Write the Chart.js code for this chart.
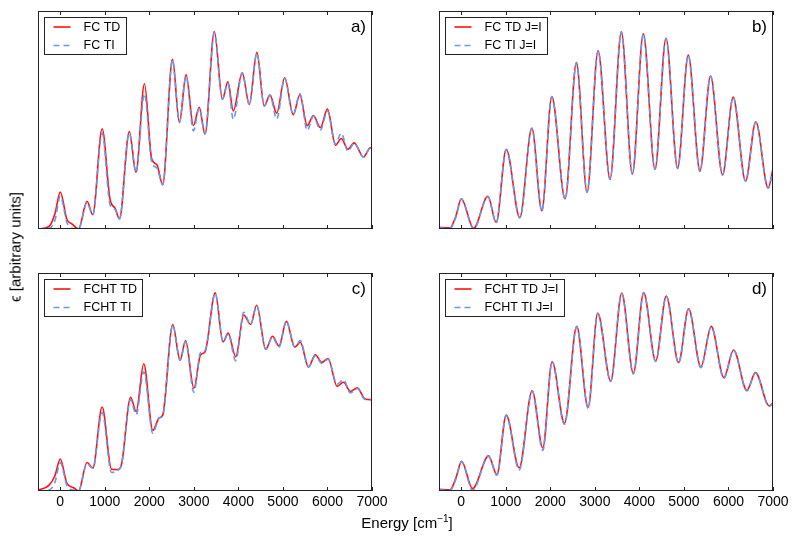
<!DOCTYPE html>
<html>
<head>
<meta charset="utf-8">
<script src="https://cdn.jsdelivr.net/npm/chart.js@4.4.0/dist/chart.umd.min.js"></script>
<style>
  body { margin: 0; background: #fff; }
  #wrap { position: relative; width: 800px; height: 540px; font-family: "Liberation Sans", Arial, sans-serif; color: #000; }
  canvas.panel { position: absolute; }
  #xlabel { position: absolute; left: 407px; top: 513px; transform: translateX(-50%); font-size: 15px; white-space: nowrap; }
  #xlabel sup { font-size: 10px; }
  #ylabel { position: absolute; left: 15px; top: 247px; transform: translate(-50%, -50%) rotate(-90deg); font-size: 15px; white-space: nowrap; }
</style>
</head>
<body>
<div id="wrap">
  <canvas class="panel" id="panelA" width="374" height="258" style="left:18px; top:1px"></canvas>
  <canvas class="panel" id="panelB" width="374" height="258" style="left:419px; top:1px"></canvas>
  <canvas class="panel" id="panelC" width="374" height="258" style="left:18px; top:263px"></canvas>
  <canvas class="panel" id="panelD" width="374" height="258" style="left:419px; top:263px"></canvas>
  <div id="xlabel">Energy [cm<sup>−1</sup>]</div>
  <div id="ylabel">ϵ [arbitrary units]</div>
</div>
<script>
// tick positions on the energy axis
const xTicks = [0, 1000, 2000, 3000, 4000, 5000, 6000, 7000];
const panelTags = ["a)", "b)", "c)", "d)"];

// a) FC
const labelsA = ["FC TD", "FC TI"];
const energyA = [-500, -250, -120, 0, 150, 260, 410, 600, 730, 940, 1120, 1230, 1330, 1550, 1700, 1890, 2055, 2170, 2300,
  2520, 2675, 2825, 2990, 3120, 3250, 3460, 3640, 3765, 3885, 4085, 4245, 4415, 4580, 4710, 4860, 5040, 5230, 5380,
  5545, 5685, 5840, 6000, 6180, 6310, 6460, 6600, 6810, 6960, 7000];
const fcTD = [0, 1.2, 7, 17, 4.3, 2.4, 0, 12.7, 6.6, 46, 13.4, 9.6, 4.7, 44.7, 26, 66.6, 32, 29.5, 20.3,
  77.8, 48.8, 70.8, 47.5, 55.8, 43.6, 90.6, 59.5, 67.5, 54.2, 71.7, 57.2, 81, 56.4, 61.4, 53.1, 69.4, 52.4, 61.6,
  47.4, 52, 46.5, 55, 38.4, 41.5, 36.6, 39.5, 33, 37.3, 36.8];
const fcTI = [0, 0.3, 4, 15, 3, 0.3, 0, 12, 6.5, 44, 11, 9, 4.7, 44, 26, 62, 30.5, 28, 20.3,
  77.5, 49, 70, 45, 55.5, 43.5, 90, 59.5, 67, 50.3, 71.5, 57.2, 80.5, 56.4, 61.4, 50.4, 69, 52.4, 62,
  45.2, 51.8, 45.4, 54, 39, 44, 35.6, 39.4, 33, 37, 36.8];

// b) FC, J = I
const labelsB = ["FC TD J=I", "FC TI J=I"];
const energyB = [-500, -250, -120, 0, 277, 598, 785, 1009, 1315, 1585, 1809, 2033, 2332, 2586, 2825, 3072, 3341, 3595,
  3842, 4088, 4350, 4597, 4858, 5097, 5359, 5598, 5867, 6106, 6383, 6614, 6891, 7000];
const fcTDJ = [0.8, 0.6, 6, 13.9, 0.3, 15, 3, 36.6, 5.3, 46.3, 8.4, 60.8, 13.9, 76.3, 17, 81.8, 22.9, 90.5,
  25.3, 89.5, 27.5, 87.5, 27.9, 79.8, 26.7, 70.2, 24.9, 60.5, 22.1, 49.2, 18.8, 27.5];
const fcTIJ = [0.5, 0.3, 5.5, 13.7, 0, 14.8, 2.8, 36.4, 5.1, 46.1, 8.2, 60.6, 13.7, 76.1, 16.8, 81.6, 22.7, 90.3,
  25.1, 89.3, 27.3, 87.3, 27.7, 79.6, 26.5, 70, 24.7, 60.3, 21.9, 49, 18.6, 27.3];

// c) FCHT
const labelsC = ["FCHT TD", "FCHT TI"];
const energyC = [-500, -250, -120, 0, 150, 300, 410, 600, 732, 940, 1150, 1300, 1380, 1580, 1704, 1875, 2078, 2220, 2300,
  2525, 2690, 2815, 3000, 3150, 3250, 3480, 3655, 3770, 3940, 4120, 4275, 4410, 4615, 4765, 4912, 5077, 5265, 5390,
  5575, 5725, 5875, 6015, 6215, 6360, 6515, 6670, 6845, 7000];
const fchtTD = [0.3, 2.7, 7, 14.7, 3.5, 1.5, 0, 13.1, 10.5, 38.5, 10, 9.8, 12.7, 43, 36.5, 58.4, 27.8, 33.5, 34.8,
  76.4, 60, 69, 47.1, 62.5, 63.8, 90.9, 68.4, 72.4, 61.6, 80.7, 76.4, 85.2, 65, 71, 66.5, 77.8, 66, 68.2,
  56.8, 62.5, 59, 60.8, 48, 49.9, 45.7, 47.3, 42.2, 41.9];
const fchtTI = [0, 0.5, 4, 13, 2.5, 0.3, 0, 12.5, 10.5, 36, 8.5, 9.8, 12.5, 42, 35, 54.7, 26.5, 33.5, 34.5,
  76, 60, 68.5, 45.3, 63.5, 64.5, 90.5, 68.4, 72, 59.7, 82, 76.4, 85, 65, 70.5, 66, 78, 66, 69,
  57, 62, 58.5, 60.5, 49, 51, 45, 47, 42, 41.9];

// d) FCHT, J = I
const labelsD = ["FCHT TD J=I", "FCHT TI J=I"];
const energyD = [-500, -250, -120, 7, 254, 613, 800, 1009, 1300, 1592, 1831, 2040, 2317, 2593, 2848, 3064, 3356, 3603,
  3864, 4096, 4365, 4604, 4880, 5105, 5380, 5613, 5897, 6114, 6413, 6607, 6913, 7000];
const fchtTDJ = [0.8, 0.6, 6, 13.6, 1.1, 16.1, 7.5, 34.8, 10.6, 46, 19.8, 59.4, 31, 75.5, 38.3, 81.6, 50.5, 90.8,
  54, 91, 59.7, 89.4, 59, 83.6, 56.9, 75.5, 52, 64.7, 46.2, 54.3, 39.1, 40.5];
const fchtTIJ = [0.5, 0.3, 5.5, 13.4, 0.3, 15.9, 7.2, 34.6, 9.6, 45.8, 18.6, 59.2, 30.6, 75.3, 38, 81.4, 50.2, 90.6,
  53.7, 90.8, 59.4, 89.2, 58.7, 83.4, 56.6, 75.3, 51.7, 64.5, 45.9, 54.1, 38.8, 40.3];

const FONT = "'Liberation Sans', Arial, sans-serif";

// box round the plot, inward ticks, legend inside the box and the panel letter
const framePlugin = {
  id: "frame",
  afterDatasetsDraw(chart, args, opts) {
    const { ctx, chartArea: a } = chart;
    const x = chart.scales.x;
    ctx.save();
    ctx.strokeStyle = "#222";
    ctx.lineWidth = 1;
    ctx.strokeRect(a.left + 0.5, a.top + 0.5, a.right - a.left - 1, a.bottom - a.top - 1);
    ctx.beginPath();
    xTicks.forEach((v) => {
      const px = Math.round(x.getPixelForValue(v)) + 0.5;
      ctx.moveTo(px, a.top);
      ctx.lineTo(px, a.top + 4);
      ctx.moveTo(px, a.bottom);
      ctx.lineTo(px, a.bottom - 4);
    });
    ctx.stroke();

    // legend
    const sets = chart.data.datasets;
    ctx.font = "12.5px " + FONT;
    const maxW = Math.max(...sets.map((d) => ctx.measureText(d.label).width));
    const bx = a.left + 6.5, by = a.top + 6.5;
    const bw = Math.round(39 + maxW + 6), bh = 37;
    ctx.fillStyle = "#fff";
    ctx.fillRect(bx, by, bw, bh);
    ctx.strokeStyle = "#222";
    ctx.strokeRect(bx, by, bw, bh);
    sets.forEach((d, i) => {
      const ly = by + 9.5 + i * 18.5;
      ctx.strokeStyle = d.borderColor;
      ctx.lineWidth = d.borderWidth;
      ctx.setLineDash(d.borderDash || []);
      ctx.beginPath();
      ctx.moveTo(bx + 9, ly);
      ctx.lineTo(bx + 26, ly);
      ctx.stroke();
      ctx.setLineDash([]);
      ctx.fillStyle = "#000";
      ctx.textBaseline = "middle";
      ctx.textAlign = "left";
      ctx.fillText(d.label, bx + 39, ly + 0.5);
    });

    // panel letter
    ctx.font = "17px " + FONT;
    ctx.textAlign = "right";
    ctx.textBaseline = "middle";
    ctx.fillStyle = "#000";
    ctx.fillText(opts.tag, a.right - 6, a.top + 16);
    ctx.restore();
  },
};

function makePanel(id, energy, td, ti, labels, tag, showTickLabels) {
  const toPoints = (vals) => energy.map((e, i) => ({ x: e, y: vals[i] }));
  return new Chart(document.getElementById(id), {
    type: "line",
    data: {
      datasets: [
        {
          label: labels[0],
          data: toPoints(td),
          borderColor: "#ff1010",
          borderWidth: 1.6,
          order: 1,
        },
        {
          label: labels[1],
          data: toPoints(ti),
          borderColor: "#6a96ec",
          borderWidth: 1.6,
          borderDash: [6, 4],
          order: 0,
        },
      ],
    },
    options: {
      responsive: false,
      animation: false,
      elements: { point: { radius: 0 }, line: { cubicInterpolationMode: "monotone" } },
      layout: { padding: { left: 20, right: 20, top: 10, bottom: 0 } },
      plugins: {
        legend: { display: false },
        tooltip: { enabled: false },
        frame: { tag: tag },
      },
      scales: {
        x: {
          type: "linear",
          min: -500,
          max: 7000,
          grid: { display: false, drawTicks: false },
          border: { display: false },
          afterBuildTicks: (s) => {
            s.ticks = xTicks.map((v) => ({ value: v }));
          },
          afterFit: (s) => {
            s.height = 30;
          },
          ticks: {
            display: showTickLabels,
            padding: 3,
            maxRotation: 0,
            autoSkip: false,
            color: "#000",
            font: { family: FONT, size: 14 },
            callback: (v) => String(v),
          },
        },
        y: { display: false, min: 0, max: 100 },
      },
    },
    plugins: [framePlugin],
  });
}

makePanel("panelA", energyA, fcTD, fcTI, labelsA, panelTags[0], false);
makePanel("panelB", energyB, fcTDJ, fcTIJ, labelsB, panelTags[1], false);
makePanel("panelC", energyC, fchtTD, fchtTI, labelsC, panelTags[2], true);
makePanel("panelD", energyD, fchtTDJ, fchtTIJ, labelsD, panelTags[3], true);
</script>
</body>
</html>
